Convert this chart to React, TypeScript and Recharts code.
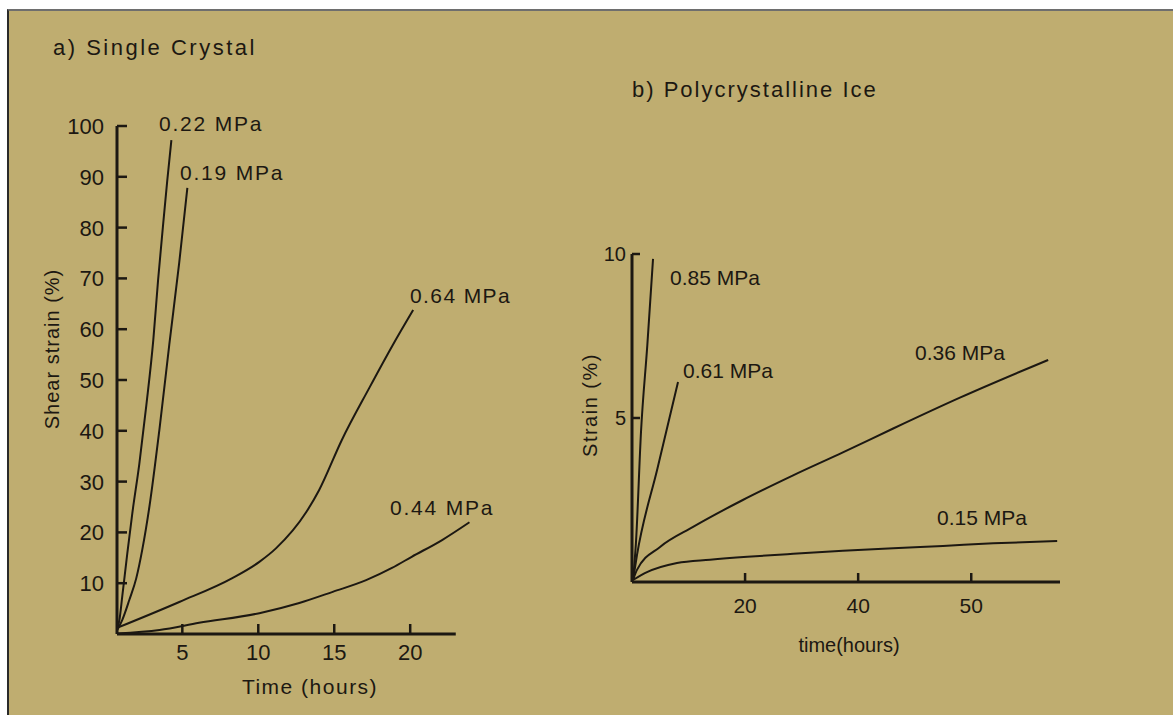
import React from "react";
import { LineChart, Line, XAxis, YAxis, ReferenceLine } from "recharts";

// ---------- Panel a) Single Crystal ----------
const timeA022 = [0.7, 0.86, 1.05, 1.38, 1.71, 2.17, 2.63, 3.09, 3.4, 3.72, 4.0, 4.28];
const strainA022 = [0.8, 2.8, 7.5, 15.9, 23.8, 33.5, 45.0, 57.9, 69.5, 80.1, 89.0, 97.2];

const timeA019 = [0.72, 1.05, 1.51, 1.97, 2.37, 2.83, 3.49, 4.14, 4.8, 5.33];
const strainA019 = [0.8, 2.8, 6.7, 11.0, 16.7, 25.0, 40.2, 56.9, 73.2, 87.8];

const timeA064 = [0.7, 4.8, 8.29, 10.07, 11.18, 13.16, 14.0, 15.5, 17.3, 18.8, 20.2];
const strainA064 = [1.2, 6.3, 11.0, 14.2, 16.9, 24.0, 28.3, 38.2, 48.4, 56.6, 63.8];

const timeA044 = [0.7, 3.5, 6.1, 10.07, 12.7, 14.9, 17.1, 18.8, 20.1, 22.1, 23.9];
const strainA044 = [0.1, 0.8, 2.2, 4.1, 6.1, 8.3, 10.6, 13.0, 15.2, 18.5, 22.0];

const xTicksA = [5, 10, 15, 20];
const yTicksA = [10, 20, 30, 40, 50, 60, 70, 80, 90, 100];

// ---------- Panel b) Polycrystalline Ice ----------
const timeB085 = [0.18, 0.7, 1.6, 2.7, 3.72];
const strainB085 = [0.06, 1.2, 4.6, 7.2, 9.85];

const timeB061 = [0.18, 0.88, 4.5, 8.14];
const strainB061 = [0.06, 0.82, 3.46, 6.1];

const timeB036 = [0.18, 0.88, 4.96, 10.8, 19.6, 28.5, 37.3, 46.2, 58.0, 73.6];
const strainB036 = [0.06, 0.37, 1.07, 1.68, 2.5, 3.25, 3.95, 4.68, 5.62, 6.77];

const timeB015 = [0.18, 2.65, 7.96, 13.8, 20.4, 28.5, 37.3, 46.2, 55.0, 63.9, 75.2];
const strainB015 = [0.06, 0.3, 0.58, 0.68, 0.77, 0.86, 0.95, 1.03, 1.1, 1.18, 1.25];

const xTicksB = [20, 40, 60];
const xTickLabelsB = ["20", "40", "50"];
const yTicksB = [5, 10];

const zip = (t: number[], s: number[]) => t.map((v, i) => ({ t: v, s: s[i] }));

const INK = "#1c1812";
const BG = "#bfad70";
const FONT = "'Liberation Sans', Arial, sans-serif";

const makeYTick = (fontSize: number, gap: number, len: number) => (props: any) => {
  const { x, y, payload } = props;
  return (
    <g>
      <line x1={x} x2={x + len} y1={y} y2={y} stroke={INK} strokeWidth={2.5} />
      <text x={x - gap} y={y} dy="0.36em" textAnchor="end" fontSize={fontSize} fontFamily={FONT} fill={INK}>
        {payload.value}
      </text>
    </g>
  );
};

const makeXTick = (fontSize: number, drop: number, len: number, labels?: { ticks: number[]; labels: string[] }) => (props: any) => {
  const { x, y, payload } = props;
  let label = String(payload.value);
  if (labels) {
    const idx = labels.ticks.indexOf(payload.value);
    if (idx >= 0) label = labels.labels[idx];
  }
  return (
    <g>
      <line x1={x} x2={x} y1={y} y2={y - len} stroke={INK} strokeWidth={2.5} />
      <text x={x} y={y + drop} textAnchor="middle" fontSize={fontSize} fontFamily={FONT} fill={INK}>
        {label}
      </text>
    </g>
  );
};

export default function App() {
  const seriesA = [
    zip(timeA022, strainA022),
    zip(timeA019, strainA019),
    zip(timeA064, strainA064),
    zip(timeA044, strainA044),
  ];
  const seriesB = [
    zip(timeB085, strainB085),
    zip(timeB061, strainB061),
    zip(timeB036, strainB036),
    zip(timeB015, strainB015),
  ];

  return (
    <div
      style={{
        position: "absolute",
        left: 7,
        top: 9,
        width: 1166,
        height: 706,
        background: BG,
        borderTop: "2px solid #6e6e6e",
        borderLeft: "2px solid #2a2a2a",
        boxSizing: "border-box",
        overflow: "hidden",
        fontFamily: FONT,
      }}
    >
      <div style={{ position: "absolute", left: -2, top: -2 }}>
        <LineChart width={560} height={706} margin={{ top: 117, right: 93, bottom: 51, left: 70 }}>
          <XAxis
            dataKey="t"
            type="number"
            domain={[0.7, 24.2]}
            ticks={xTicksA}
            interval={0}
            axisLine={false}
            tickLine={false}
            tickSize={0}
            tickMargin={0}
            height={30}
            tick={makeXTick(22, 26, 10)}
          />
          <YAxis
            type="number"
            domain={[0, 100]}
            ticks={yTicksA}
            interval={0}
            axisLine={{ stroke: INK, strokeWidth: 3 }}
            tickLine={false}
            tickSize={0}
            tickMargin={0}
            width={40}
            tick={makeYTick(22, 13, 10)}
          />
          <ReferenceLine
            segment={[{ x: 0.7, y: 0 }, { x: 23, y: 0 }]}
            stroke={INK}
            strokeWidth={3}
            ifOverflow="visible"
          />
          {seriesA.map((d, i) => (
            <Line
              key={i}
              data={d}
              dataKey="s"
              type="monotone"
              stroke={INK}
              strokeWidth={2}
              dot={false}
              isAnimationActive={false}
            />
          ))}
        </LineChart>
      </div>

      <div style={{ position: "absolute", left: 558, top: -2 }}>
        <LineChart width={606} height={706} margin={{ top: 245, right: 113, bottom: 103, left: 25 }}>
          <XAxis
            dataKey="t"
            type="number"
            domain={[0, 75.7]}
            ticks={xTicksB}
            interval={0}
            axisLine={{ stroke: INK, strokeWidth: 3 }}
            tickLine={false}
            tickSize={0}
            tickMargin={0}
            height={30}
            tick={makeXTick(21, 31, 9, { ticks: xTicksB, labels: xTickLabelsB })}
          />
          <YAxis
            type="number"
            domain={[0, 10]}
            ticks={yTicksB}
            interval={0}
            axisLine={{ stroke: INK, strokeWidth: 3 }}
            tickLine={false}
            tickSize={0}
            tickMargin={0}
            width={40}
            tick={makeYTick(20, 6, 8)}
          />
          {seriesB.map((d, i) => (
            <Line
              key={i}
              data={d}
              dataKey="s"
              type="monotone"
              stroke={INK}
              strokeWidth={2}
              dot={false}
              isAnimationActive={false}
            />
          ))}
        </LineChart>
      </div>

      <svg
        width={1166}
        height={706}
        style={{ position: "absolute", left: -2, top: -2, pointerEvents: "none" }}
      >
        <g fill={INK} fontFamily={FONT}>
          <text x={46} y={46} fontSize={22} letterSpacing={2.5}>a) Single Crystal</text>
          <text x={625} y={88} fontSize={22} letterSpacing={2}>b) Polycrystalline Ice</text>

          <text x={152} y={122} fontSize={21} letterSpacing={1.8}>0.22 MPa</text>
          <text x={173} y={171} fontSize={21} letterSpacing={1.8}>0.19 MPa</text>
          <text x={403} y={294} fontSize={21} letterSpacing={1.4}>0.64 MPa</text>
          <text x={383} y={506} fontSize={21} letterSpacing={1.8}>0.44 MPa</text>

          <text x={663} y={276} fontSize={21}>0.85 MPa</text>
          <text x={676} y={369} fontSize={21}>0.61 MPa</text>
          <text x={908} y={351} fontSize={21}>0.36 MPa</text>
          <text x={930} y={516} fontSize={21}>0.15 MPa</text>

          <text
            x={45}
            y={340}
            fontSize={20}
            letterSpacing={1}
            textAnchor="middle"
            dominantBaseline="central"
            transform="rotate(-90 45 340)"
          >
            Shear strain (%)
          </text>
          <text x={303} y={685} fontSize={21} letterSpacing={1.5} textAnchor="middle">Time (hours)</text>

          <text
            x={583}
            y={396}
            fontSize={20}
            letterSpacing={1.5}
            textAnchor="middle"
            dominantBaseline="central"
            transform="rotate(-90 583 396)"
          >
            Strain (%)
          </text>
          <text x={842} y={643} fontSize={20} textAnchor="middle">time(hours)</text>
        </g>
      </svg>
    </div>
  );
}
